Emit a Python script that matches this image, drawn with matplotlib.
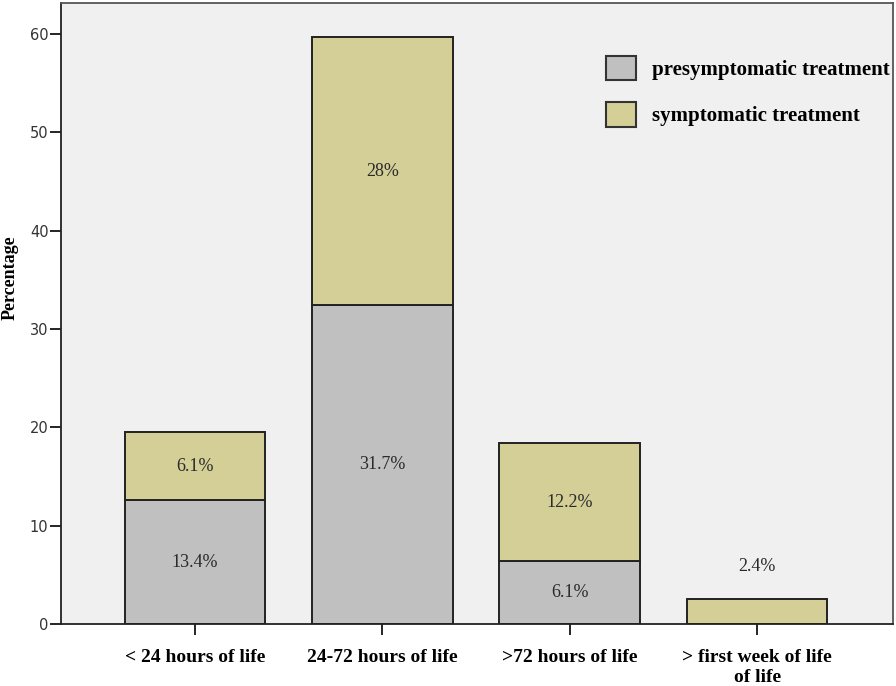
import matplotlib
matplotlib.use("Agg")
import matplotlib.pyplot as plt
from matplotlib.patches import Patch

categories = ["< 24 hours of life", "24-72 hours of life", ">72 hours of life", "> first week of life\nof life"]
presymptomatic = [12.6, 32.4, 6.4, 0.0]
symptomatic = [6.9, 27.3, 12.0, 2.5]
pre_labels = ["13.4%", "31.7%", "6.1%", ""]
sym_labels = ["6.1%", "28%", "12.2%", "2.4%"]
series_names = ["presymptomatic treatment", "symptomatic treatment"]

gray = "#c0c0c0"
tan = "#d4cf97"
serif = ["Liberation Serif", "DejaVu Serif"]

fig = plt.figure(figsize=(8.96, 6.86), dpi=100)
ax = fig.add_axes([61/896, 62/686, (893-61)/896, (624-3)/686])
ax.set_facecolor("#f0f0f0")

x = list(range(len(categories)))
w = 0.75
b1 = ax.bar(x, presymptomatic, width=w, color=gray, edgecolor="#222222", linewidth=1.4)
b2 = ax.bar(x, symptomatic, width=w, bottom=presymptomatic, color=tan, edgecolor="#222222", linewidth=1.4)
for r, v in zip(b1, presymptomatic):
    if v == 0:
        r.set_visible(False)

lab_kw = dict(ha="center", va="center", fontsize=13, family=serif, color="#2a2a2a")
for i in x:
    p, s = presymptomatic[i], symptomatic[i]
    if pre_labels[i]:
        ax.text(i, p / 2, pre_labels[i], **lab_kw)
    if sym_labels[i]:
        if p == 0:
            ax.text(i, p + s + 3.3, sym_labels[i], **lab_kw)
        else:
            ax.text(i, p + s / 2, sym_labels[i], **lab_kw)

ax.set_xlim(-0.715, 3.725)
ax.set_ylim(0, 63.15)
ax.set_yticks([0, 10, 20, 30, 40, 50, 60])
ax.set_yticklabels(["0", "10", "20", "30", "40", "50", "60"], family="DejaVu Sans")
ax.tick_params(axis="y", length=8, width=1.2, labelsize=10.5, labelcolor="#333333", pad=1)
ax.set_xticks(x)
ax.set_xticklabels(categories, family=serif, fontweight="bold", fontsize=14, va="top", linespacing=1.2)
ax.tick_params(axis="x", length=8, width=1.2, pad=10)
for sp in ax.spines.values():
    sp.set_color("#222222")
    sp.set_linewidth(1.3)
ax.spines["top"].set_color("#555555")
ax.spines["right"].set_color("#555555")

ax.set_ylabel("Percentage", family=serif, fontweight="bold", fontsize=13)
ax.yaxis.set_label_coords(-0.051, 0.557)

handles = [Patch(facecolor=gray, edgecolor="#333333", linewidth=1.5),
           Patch(facecolor=tan, edgecolor="#333333", linewidth=1.5)]
ax.legend(handles, series_names, loc="upper right", bbox_to_anchor=(0.996, 0.915), frameon=False,
          prop={"family": serif, "weight": "bold", "size": 15}, handlelength=1.44, handleheight=1.44,
          labelspacing=1.05, handletextpad=0.75, borderaxespad=0, borderpad=0)

fig.savefig("out.png", dpi=100, facecolor="white")
